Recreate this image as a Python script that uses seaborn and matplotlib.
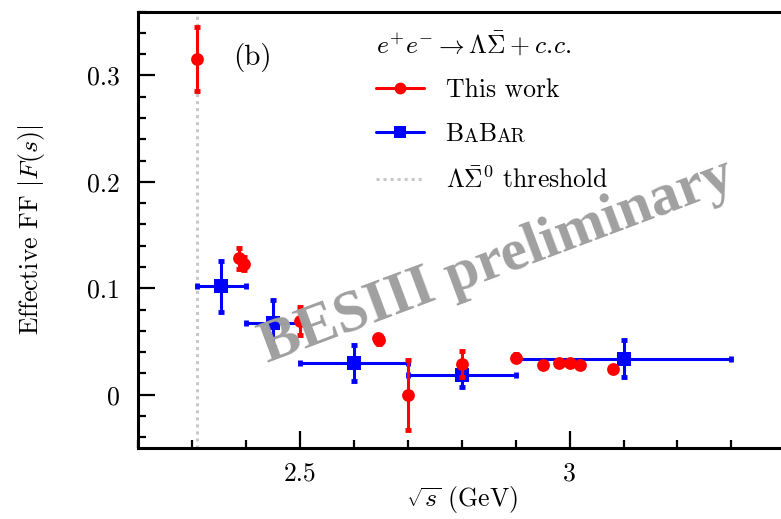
import matplotlib
matplotlib.use("Agg")
import matplotlib.pyplot as plt
from matplotlib.lines import Line2D
from matplotlib.ticker import MultipleLocator, FixedLocator
import seaborn as sns
import pandas as pd

# BESIII measurements of the effective form factor
bes_sqrt_s = [2.3094, 2.3864, 2.3960, 2.5000, 2.6444, 2.6464, 2.7000, 2.8000,
              2.9000, 2.9500, 2.9810, 3.0000, 3.0200, 3.0800]
bes_ff = [0.315, 0.128, 0.123, 0.069, 0.053, 0.051, 0.000, 0.029,
          0.035, 0.028, 0.030, 0.030, 0.0275, 0.0243]
bes_err = [0.030, 0.010, 0.006, 0.013, 0.003, 0.003, 0.033, 0.0125,
           0.003, 0.002, 0.002, 0.002, 0.002, 0.002]

# BaBar measurements (energy bins)
babar_lo = [2.308, 2.400, 2.500, 2.700, 2.900]
babar_hi = [2.400, 2.500, 2.700, 2.900, 3.300]
babar_ff = [0.102, 0.067, 0.030, 0.019, 0.034]
babar_err = [0.024, 0.022, 0.017, 0.012, 0.017]

threshold = 1.115683 + 1.192642  # m_Lambda + m_Sigma0

sns.set_theme(style="ticks")
plt.rcParams["font.family"] = ["cmr10", "DejaVu Serif"]
plt.rcParams["mathtext.fontset"] = "cm"
plt.rcParams["axes.formatter.use_mathtext"] = True
plt.rcParams["axes.unicode_minus"] = False

bes = pd.DataFrame({"sqrt_s": bes_sqrt_s, "ff": bes_ff, "err": bes_err})
babar = pd.DataFrame({"lo": babar_lo, "hi": babar_hi, "ff": babar_ff, "err": babar_err})
babar["mid"] = (babar["lo"] + babar["hi"]) / 2
babar["half"] = (babar["hi"] - babar["lo"]) / 2

fig = plt.figure(figsize=(7.81, 5.19), dpi=100)
ax = fig.add_axes([138.3 / 781, 71 / 519, 647 / 781, 436.5 / 519])

red = "#ff0000"
blue = "#0000ff"

ax.axvline(threshold, color="#c8c8c8", lw=2.2, ls=(0, (1.0, 1.3)), zorder=1)

ax.errorbar(babar["mid"], babar["ff"], xerr=babar["half"], yerr=babar["err"],
            fmt="none", ecolor=blue, elinewidth=2.2, capsize=2.2, capthick=3.5, zorder=2)
sns.scatterplot(data=babar, x="mid", y="ff", marker="s", s=110, color=blue,
                edgecolor=blue, linewidth=0, ax=ax, zorder=3)

ax.errorbar(bes["sqrt_s"], bes["ff"], yerr=bes["err"], fmt="none",
            ecolor=red, elinewidth=2.2, capsize=2.2, capthick=3.5, zorder=4)
sns.scatterplot(data=bes, x="sqrt_s", y="ff", marker="o", s=85, color=red,
                edgecolor=red, linewidth=0, ax=ax, zorder=5)

ax.set_xlim(2.2, 3.4)
ax.set_ylim(-0.05, 0.36)
ax.xaxis.set_major_locator(FixedLocator([2.5, 3.0]))
ax.xaxis.set_minor_locator(MultipleLocator(0.1))
ax.yaxis.set_major_locator(FixedLocator([0, 0.1, 0.2, 0.3]))
ax.yaxis.set_minor_locator(MultipleLocator(0.02))
ax.set_xticklabels(["2.5", "3"])
ax.set_yticklabels(["0", "0.1", "0.2", "0.3"])

ax.tick_params(which="both", direction="in", color="black", width=1.6,
               labelsize=18.5, labelcolor="black")
ax.tick_params(which="major", length=12)
ax.tick_params(which="minor", length=6)
ax.tick_params(axis="y", pad=13)
ax.tick_params(axis="x", pad=10)
for side in ["left", "bottom", "top", "right"]:
    ax.spines[side].set_linewidth(2.2)
    ax.spines[side].set_color("black")

ax.set_xlabel(r"$\sqrt{s}$ (GeV)", fontsize=18.5, color="black", labelpad=-1)
ax.set_ylabel(r"Effective FF $|F(s)|$", fontsize=18.5, color="black", labelpad=29)

ax.text(2.411, 0.317, "(b)", fontsize=21, ha="center", va="center", color="black")

handles = [
    Line2D([], [], color=red, lw=2.2, marker="o", markersize=8.5, markeredgewidth=0),
    Line2D([], [], color=blue, lw=2.2, marker="s", markersize=9, markeredgewidth=0),
    Line2D([], [], color="#c8c8c8", lw=2.2, ls=(0, (1.0, 1.3))),
]
labels = ["This work", "B", r"$\Lambda\bar{\Sigma}^0$ threshold"]
leg = ax.legend(handles, labels,
                title=r"$e^{+}e^{-}\rightarrow\Lambda\bar{\Sigma}+c.\!c.$",
                loc="upper left", bbox_to_anchor=(0.336, 1.005), frameon=False,
                fontsize=18.5, title_fontsize=18.5, handlelength=1.85,
                handletextpad=0.85, labelspacing=0.8, alignment="left", borderpad=0.3)
for t in leg.get_texts():
    t.set_color("black")
leg.get_title().set_color("black")

# small caps for the BaBar label
prev = leg.get_texts()[1]
for piece, size in [("A", 14), ("B", 18.5), ("AR", 14)]:
    prev = ax.annotate(piece, xy=(1, 0), xycoords=prev, va="bottom", ha="left",
                       fontsize=size, color="black", zorder=7)

ax.text(2.866, 0.125, "BESIII preliminary", fontsize=43, fontweight="bold",
        family="Liberation Serif", color="#a0a0a0", rotation=20.5,
        ha="center", va="center", rotation_mode="anchor", zorder=8)

fig.savefig("out.png", dpi=100)
